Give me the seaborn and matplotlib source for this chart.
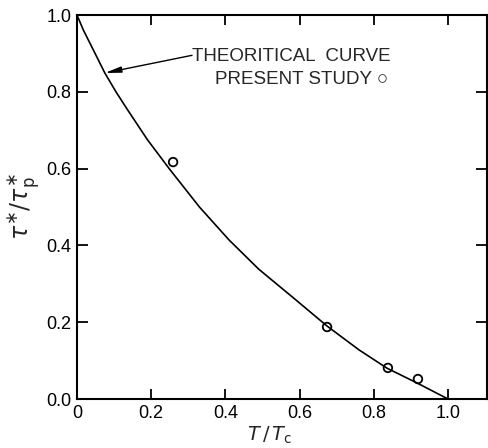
import matplotlib
matplotlib.use("Agg")
import matplotlib.pyplot as plt
import seaborn as sns
import pandas as pd

# Theoretical curve
curve_t = [0.0, 0.017, 0.044, 0.075, 0.105, 0.135, 0.19, 0.25, 0.33, 0.41, 0.49, 0.58, 0.674, 0.76, 0.836, 0.916, 1.0]
curve_v = [1.0, 0.961, 0.909, 0.849, 0.80, 0.755, 0.675, 0.598, 0.50, 0.414, 0.338, 0.266, 0.19, 0.128, 0.080, 0.042, 0.0]

# Present study data points
study_t = [0.259, 0.674, 0.838, 0.919]
study_v = [0.617, 0.1875, 0.081, 0.052]

x_ticks = [0.0, 0.2, 0.4, 0.6, 0.8, 1.0]
x_ticklabels = ["0", "0.2", "0.4", "0.6", "0.8", "1.0"]
y_ticks = [0.0, 0.2, 0.4, 0.6, 0.8, 1.0]
y_ticklabels = ["0.0", "0.2", "0.4", "0.6", "0.8", "1.0"]

sns.set_theme(style="ticks")
plt.rcParams['font.family'] = ['Liberation Sans', 'DejaVu Sans']
plt.rcParams['mathtext.fontset'] = 'dejavusans'

fig = plt.figure(figsize=(4.88, 4.48), dpi=100)
ax = fig.add_axes([77/488, 1 - 399/448, 410/488, 384/448])

curve_df = pd.DataFrame({"t": curve_t, "v": curve_v})
study_df = pd.DataFrame({"t": study_t, "v": study_v})

sns.lineplot(data=curve_df, x="t", y="v", ax=ax, color="black", linewidth=1.2, sort=False)
sns.scatterplot(data=study_df, x="t", y="v", ax=ax, marker="o", s=38,
                facecolor="none", edgecolor="black", linewidth=1.3, zorder=5)

ax.set_xlim(0, 410/371)
ax.set_ylim(0, 1.0)
ax.set_xticks(x_ticks)
ax.set_xticklabels(x_ticklabels)
ax.set_yticks(y_ticks)
ax.set_yticklabels(y_ticklabels)
ax.tick_params(axis="both", direction="in", top=True, right=True, labelsize=13,
               length=7, width=1.3, colors="black", pad=4)
ax.tick_params(axis="y", length=8)
for sp in ax.spines.values():
    sp.set_visible(True)
    sp.set_linewidth(1.5)
    sp.set_color("black")

ax.set_xlabel(r"$T\,/\,T_{\rm c}$", fontsize=14)
ax.set_ylabel(r"$\tau^{\ast}/\tau^{\ast}_{\rm p}$", fontsize=17)
ax.xaxis.set_label_coords((270 - 77) / 410, -(425 - 399) / 384)
ax.yaxis.set_label_coords(-(77 - 42) / 410, 0.5)

ax.annotate("", xy=(0.075, 0.849), xytext=(0.31, 0.895),
            arrowprops=dict(arrowstyle="-|>,head_length=0.8,head_width=0.15",
                            color="black", lw=1.0, shrinkA=0, shrinkB=0))
ax.text(0.31, 0.892, "THEORITICAL  CURVE", fontsize=13.5, ha="left", va="center")
ax.text(0.605, 0.833, "PRESENT STUDY \u25cb", fontsize=13.5, ha="center", va="center")

fig.savefig("out.png", dpi=100)
